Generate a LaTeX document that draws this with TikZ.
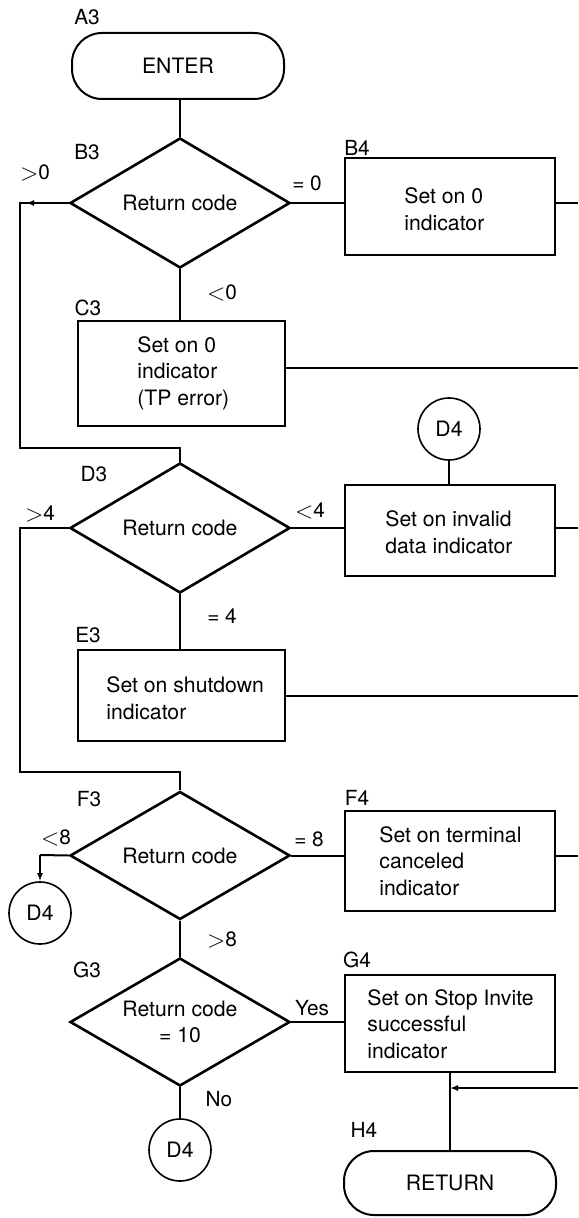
\documentclass[tikz,border=0pt]{standalone}
\usepackage{fontspec}
\setmainfont{TeX Gyre Heros}
\usetikzlibrary{shapes.geometric,arrows.meta}
\newcommand{\gsym}{\raisebox{-0.3pt}{\fontsize{12.5}{12.5}\selectfont$>$}}
\newcommand{\lsym}{\raisebox{-0.3pt}{\fontsize{12.5}{12.5}\selectfont$<$}}
\begin{document}
\begin{tikzpicture}[x=0.5pt,y=-0.5pt,
  font=\fontsize{10.6}{13.3}\selectfont,
  dia/.style={diamond, draw, line width=1.3pt, aspect=1.7, inner sep=0pt,
    minimum width=110pt, minimum height=65pt, align=center},
  proc/.style={rectangle, draw, line width=1pt, inner sep=0pt},
  txt/.style={align=left, inner sep=0pt},
  term/.style={rectangle, draw, line width=1pt, rounded corners=15pt,
    minimum width=106pt, minimum height=33pt},
  conn/.style={circle, draw, line width=0.8pt, minimum size=31pt, inner sep=0pt},
  line/.style={line width=1pt},
  lbl/.style={font=\fontsize{10.4}{11}\selectfont, inner sep=0pt},
  arr/.style={line width=1pt, -{Latex[length=4pt,width=3pt]}}
]
\useasboundingbox (0,0) rectangle (578,1218);

% nodes
\node[term] (enter) at (178,66) {ENTER};
\node[lbl] (la3) at (87,17) {A3};
\node[dia] (b3) at (180,203) {Return code};
\node[lbl] (lb3) at (87,152) {B3};
\node[proc, minimum width=105pt, minimum height=48.5pt] (b4) at (450,206.5) {};
\node[txt, anchor=west] (b4t) at (404,209) {Set on 0\\indicator};
\node[lbl] (lb4) at (357,148) {B4};
\node[proc, minimum width=103.5pt, minimum height=52.5pt] (c3) at (181.5,373.5) {};
\node[txt, anchor=west] (c3t) at (137,373) {Set on 0\\indicator\\(TP error)};
\node[lbl] (lc3) at (88,308) {C3};
\node[conn] (d4c) at (449,429) {D4};
\node[proc, minimum width=105pt, minimum height=45.5pt] (d4) at (450,530.5) {};
\node[txt, anchor=west] (d4t) at (385,532) {Set on invalid\\data indicator};
\node[dia] (d3) at (180,528) {Return code};
\node[lbl] (ld3) at (94,474) {D3};
\node[proc, minimum width=103.5pt, minimum height=45.5pt] (e3) at (181.5,695.5) {};
\node[txt, anchor=west] (e3t) at (106,698) {Set on shutdown\\indicator};
\node[lbl] (le3) at (88,635) {E3};
\node[dia, minimum height=64pt] (f3) at (180,855.5) {Return code};
\node[lbl] (lf3) at (89,799) {F3};
\node[proc, minimum width=105pt, minimum height=50pt] (f4) at (450,861) {};
\node[txt, anchor=west] (f4t) at (379,861) {Set on terminal\\canceled\\indicator};
\node[lbl] (lf4) at (357,798) {F4};
\node[conn] (d4l) at (40,913) {D4};
\node[dia, minimum height=64pt] (g3) at (180,1022) {Return code\\= 10};
\node[lbl] (lg3) at (87,970) {G3};
\node[proc, minimum width=105pt, minimum height=48.5pt] (g4) at (450,1023.5) {};
\node[txt, anchor=west] (g4t) at (367,1024) {Set on Stop Invite\\successful\\indicator};
\node[lbl] (lg4) at (357,960) {G4};
\node[conn] (d4b) at (180,1150) {D4};
\node[term, minimum height=32pt] (ret) at (450,1183) {RETURN};
\node[lbl] (lh4) at (364,1130) {H4};

% connector labels
\node[lbl] (e0) at (307,183) {= 0};
\node[lbl] (gt0) at (35,173) {\gsym0};
\node[lbl] (lt0) at (222,293) {\lsym0};
\node[lbl] (lt4) at (310,511) {\lsym4};
\node[lbl] (gt4) at (40,514) {\gsym4};
\node[lbl] (eq4) at (222,616) {= 4};
\node[lbl] (lt8) at (56,838) {\lsym8};
\node[lbl] (eq8) at (309,839) {= 8};
\node[lbl] (gt8) at (222,940) {\gsym8};
\node[lbl] (yes) at (312,1008) {Yes};
\node[lbl] (no) at (219,1099) {No};

% coordinates
\coordinate (k1) at (20,203);
\coordinate (k2) at (180,448);
\coordinate (k3) at (20,528);
\coordinate (k4) at (180,772);
\coordinate (k5) at (40,855);
\coordinate (rb4) at (578,203);
\coordinate (rc3) at (578,368);
\coordinate (rd4) at (578,528);
\coordinate (re3) at (578,695.5);
\coordinate (rf4) at (578,855.5);
\coordinate (rin) at (578,1088);
\coordinate (jn) at (450,1088);

% connectors
\draw[line] (b3.north |- enter.south) -- (b3.north);
\draw[line] (b3.west) -- (k1) -- (k1 |- k2) -- (k2) -- (d3.north);
\draw[arr] (b3.west) -- ([xshift=3pt]k1);
\draw[line] (b3.east) -- (b3.east -| b4.west);
\draw[line] (b3.east -| b4.east) -- (rb4);
\draw[line] (b3.south) -- (b3.south |- c3.north);
\draw[line] (c3.east |- rc3) -- (rc3);
\draw[line] (d4c.south) -- (d4c.south |- d4.north);
\draw[line] (d3.east) -- (d3.east -| d4.west);
\draw[line] (d3.east -| d4.east) -- (rd4);
\draw[line] (d3.west) -- (k3) -- (k3 |- k4) -- (k4) -- (f3.north);
\draw[line] (d3.south) -- (d3.south |- e3.north);
\draw[line] (e3.east) -- (re3);
\draw[line] (f3.west) -- (k5);
\draw[arr] (k5) -- (d4l.north);
\draw[line] (f3.east) -- (f3.east -| f4.west);
\draw[line] (f3.east -| f4.east) -- (rf4);
\draw[line] (f3.south) -- (g3.north);
\draw[line] (g3.east) -- (g3.east -| g4.west);
\draw[line] (g3.south) -- (d4b.north);
\draw[line] (g4.south) -- (ret.north);
\draw[arr] (rin) -- (jn);
\end{tikzpicture}
\end{document}
